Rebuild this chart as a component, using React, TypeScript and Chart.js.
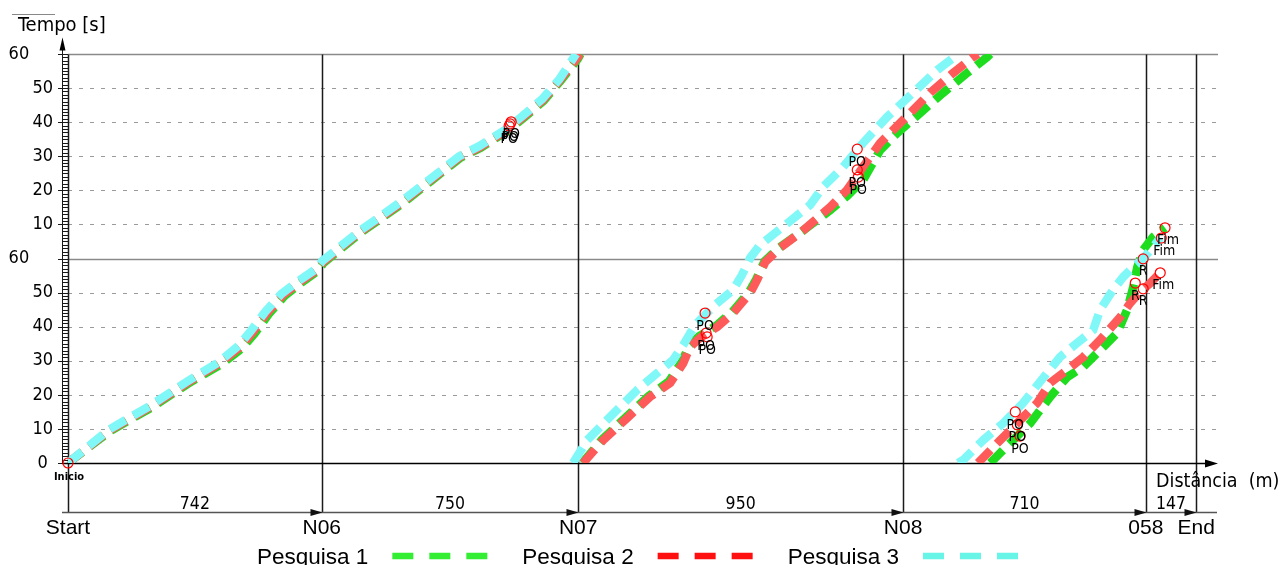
import React, { useEffect, useRef } from 'react';
import { Chart, registerables } from 'chart.js';

Chart.register(...registerables);

// ---- Data ----
const stationNames = ['Start', 'N06', 'N07', 'N08', '058', 'End'];
const stationDist = [0, 742, 1492, 2442, 3152, 3299];
const segmentLengths = [742, 750, 950, 710, 147];
const timeMax = 120; // two stacked 60 s bands
const timeStep = 10;

const seriesNames = ['Pesquisa 1', 'Pesquisa 2', 'Pesquisa 3'];

// Pesquisa 1 (green)
const p1Dist = [0, 125, 243, 351, 448, 508, 546, 587, 633, 682, 731, 748, 856, 973, 1062, 1148, 1207, 1286, 1333, 1391, 1441, 1491, 1499,
  1499,
  1504, 1562, 1632, 1699, 1757, 1796, 1816, 1846, 1896, 1943, 1992, 2013, 2037, 2080, 2139, 2229, 2278, 2325, 2375, 2425, 2492, 2559, 2629, 2688, 2697,
  2697,
  2697, 2755, 2814, 2872, 2922, 2969, 3027, 3068, 3097, 3115, 3127, 3144, 3173, 3208];
const p1Time = [0, 9.5, 16.2, 23.3, 29.0, 33.6, 38.0, 43.7, 49.0, 52.9, 56.4, 58.8, 67.6, 75.8, 82.8, 89.6, 92.5, 97.5, 101.3, 106.3, 112.2, 118.6, 120,
  null,
  0, 6.9, 13.5, 19.7, 23.9, 29.8, 34.5, 37.2, 40.3, 44.4, 50.2, 54.0, 59.2, 63.2, 67.4, 74.2, 78.3, 83.0, 91.8, 96.8, 102.7, 108.6, 114.4, 119.1, 120,
  null,
  0, 5.9, 11.7, 19.4, 25.2, 28.2, 34.0, 38.1, 44.9, 51.6, 57.5, 62.5, 66.3, 69.0];

// Pesquisa 2 (red)
const p2Dist = [0, 123, 240, 348, 444, 503, 541, 582, 629, 678, 728, 746, 854, 971, 1060, 1146, 1205, 1284, 1331, 1389, 1439, 1489, 1497,
  1497,
  1506, 1565, 1635, 1702, 1761, 1799, 1819, 1848, 1898, 1945, 1995, 2015, 2039, 2082, 2141, 2229, 2278, 2325, 2375, 2442, 2521, 2588, 2647, 2661,
  2661,
  2661, 2726, 2776, 2834, 2872, 2922, 2969, 3018, 3077, 3106, 3135, 3165, 3194];
const p2Time = [0, 9.7, 16.4, 23.5, 29.3, 34.0, 38.4, 44.0, 49.3, 53.1, 56.6, 59.0, 67.8, 76.0, 83.0, 89.8, 92.7, 97.7, 101.5, 106.5, 112.4, 118.8, 120,
  null,
  0, 6.7, 13.2, 19.4, 23.5, 29.3, 34.0, 36.7, 39.9, 44.0, 49.9, 53.7, 59.0, 63.1, 67.5, 75.1, 80.1, 86.9, 93.9, 100.6, 108.6, 114.4, 119.1, 120,
  null,
  0, 6.7, 11.7, 17.6, 23.5, 27.3, 31.1, 36.1, 42.8, 46.9, 50.2, 52.8, 55.8];

// Pesquisa 3 (cyan)
const p3Dist = [0, 120, 237, 345, 441, 499, 536, 577, 624, 674, 725, 744, 852, 969, 1058, 1144, 1203, 1282, 1329, 1387, 1437, 1486,
  1486,
  1477, 1518, 1576, 1664, 1723, 1769, 1799, 1834, 1892, 1945, 1971, 1995, 2024, 2097, 2170, 2208, 2267, 2325, 2395, 2471, 2542, 2600, 2603,
  2603,
  2603, 2618, 2676, 2735, 2793, 2863, 2901, 2951, 2998, 3018, 3056, 3086, 3115, 3144, 3165, 3194];
const p3Time = [0, 9.8, 16.6, 23.7, 29.6, 34.4, 38.9, 44.4, 49.6, 53.4, 56.9, 59.3, 68.0, 76.3, 83.2, 90.0, 93.0, 98.0, 101.8, 106.8, 112.6, 120,
  null,
  0, 6.7, 12.6, 21.4, 26.4, 30.2, 34.6, 40.5, 46.4, 50.8, 55.2, 60.2, 64.0, 69.8, 75.7, 81.0, 86.9, 93.9, 101.5, 108.6, 115.3, 119.7, 120,
  null,
  0, 0.9, 6.7, 11.7, 17.6, 26.4, 31.1, 35.2, 39.0, 44.9, 50.8, 54.6, 57.5, 59.9, 62.5, 66.0];

// Event markers
const markDist = [0, 1290, 1293, 1296, 1863, 1866, 1869, 2308, 2308, 2311, 2770, 2776, 2784, 3121, 3144, 3144, 3197, 3208, 3194];
const markTime = [0, 98.9, 99.5, 100.1, 44.0, 38.1, 37.0, 92.1, 86.0, 83.9, 15.0, 11.2, 7.9, 52.8, 59.9, 51.1, 66.0, 69.0, 55.8];
const markLabel = ['Inicio', 'PO', 'PO', 'PO', 'PO', 'PO', 'PO', 'PO', 'PO', 'PO', 'PO', 'PO', 'PO', 'R', 'R', 'R', 'Fim', 'Fim', 'Fim'];

// ---- Styles ----
const lineColors = ['#1edc1e', '#ff5a5a', '#80f8f8'];
const legendColors = ['#33ee33', '#ff1010', '#66f5e6'];
const condFont = '"DejaVu Sans Condensed", "DejaVu Sans", sans-serif';
const arialFont = '"Liberation Sans", Arial, sans-serif';

const toPoints = (d: number[], t: (number | null)[]) => d.map((v, i) => ({ x: v, y: t[i] }));

const decorPlugin = {
  id: 'decor',
  beforeDatasetsDraw(chart: any) {
    const { ctx, chartArea: a, scales } = chart;
    const xs = scales.x;
    const ys = scales.y;
    const yBase = Math.round(ys.getPixelForValue(0)) + 0.5;
    const yTop = Math.round(ys.getPixelForValue(timeMax)) + 0.5;
    const distLineY = yBase + 49;
    const rulerX = a.left - 6;
    ctx.save();
    // horizontal grid lines at y ticks
    ys.ticks.forEach((t: any) => {
      const v = t.value;
      if (v === 0) return;
      const py = Math.round(ys.getPixelForValue(v)) + 0.5;
      ctx.beginPath();
      if (v % 60 === 0) {
        ctx.setLineDash([]);
        ctx.strokeStyle = '#8a8a8a';
        ctx.lineWidth = 1.5;
      } else {
        ctx.setLineDash([4, 7]);
        ctx.strokeStyle = '#9a9a9a';
        ctx.lineWidth = 1;
      }
      ctx.moveTo(a.left, py);
      ctx.lineTo(a.right + 1, py);
      ctx.stroke();
    });
    ctx.setLineDash([]);
    // station verticals
    stationDist.forEach((d) => {
      const px = Math.round(xs.getPixelForValue(d)) + 0.5;
      ctx.beginPath();
      ctx.strokeStyle = '#1a1a1a';
      ctx.lineWidth = 1.5;
      ctx.moveTo(px, yTop);
      ctx.lineTo(px, distLineY);
      ctx.stroke();
    });
    // ruler on time axis
    ctx.strokeStyle = '#1a1a1a';
    ctx.lineWidth = 1;
    ctx.beginPath();
    ctx.moveTo(rulerX + 0.5, yBase);
    ctx.lineTo(rulerX + 0.5, yTop - 12);
    ctx.stroke();
    for (let s = 0; s <= timeMax; s++) {
      const py = Math.round(ys.getPixelForValue(s)) + 0.5;
      ctx.beginPath();
      ctx.moveTo(s % timeStep === 0 ? a.left - 10 : rulerX, py);
      ctx.lineTo(a.left, py);
      ctx.stroke();
    }
    // arrow up
    ctx.fillStyle = '#000';
    ctx.beginPath();
    ctx.moveTo(rulerX + 0.5, yTop - 17);
    ctx.lineTo(rulerX - 2.5, yTop - 4);
    ctx.lineTo(rulerX + 3.5, yTop - 4);
    ctx.closePath();
    ctx.fill();
    // zero time axis (distance axis) with arrow
    ctx.strokeStyle = '#000';
    ctx.lineWidth = 1.5;
    ctx.beginPath();
    ctx.moveTo(rulerX, yBase);
    ctx.lineTo(a.right - 4, yBase);
    ctx.stroke();
    ctx.beginPath();
    ctx.moveTo(a.right + 1, yBase);
    ctx.lineTo(a.right - 12, yBase - 4);
    ctx.lineTo(a.right - 12, yBase + 4);
    ctx.closePath();
    ctx.fill();
    // distance segments line
    ctx.strokeStyle = '#555';
    ctx.beginPath();
    ctx.moveTo(rulerX, distLineY);
    ctx.lineTo(a.right, distLineY);
    ctx.stroke();
    ctx.fillStyle = '#111';
    stationDist.forEach((d, i) => {
      if (i === 0) return;
      const px = Math.round(xs.getPixelForValue(d)) + 0.5;
      ctx.beginPath();
      ctx.moveTo(px, distLineY);
      ctx.lineTo(px - 12, distLineY - 3.5);
      ctx.lineTo(px - 12, distLineY + 3.5);
      ctx.closePath();
      ctx.fill();
    });
    // segment lengths
    ctx.fillStyle = '#000';
    ctx.font = `17.5px ${condFont}`;
    ctx.textAlign = 'center';
    ctx.textBaseline = 'alphabetic';
    segmentLengths.forEach((len, i) => {
      const mid = (xs.getPixelForValue(stationDist[i]) + xs.getPixelForValue(stationDist[i + 1])) / 2;
      ctx.fillText(String(len), mid, distLineY - 4);
    });
    // axis titles
    ctx.font = `19.5px ${condFont}`;
    ctx.textAlign = 'left';
    ctx.fillText('Distância  (m)', a.right - 61, yBase + 23);
    ctx.font = `20px ${condFont}`;
    ctx.fillText('Tempo [s]', 18, 31);
    ctx.strokeStyle = '#888';
    ctx.lineWidth = 1;
    ctx.beginPath();
    ctx.moveTo(12, 14.5);
    ctx.lineTo(55, 14.5);
    ctx.stroke();
    ctx.restore();
  },
  afterDatasetsDraw(chart: any) {
    const { ctx } = chart;
    const meta = chart.getDatasetMeta(3);
    ctx.save();
    ctx.fillStyle = '#000';
    ctx.textAlign = 'center';
    ctx.textBaseline = 'middle';
    meta.data.forEach((pt: any, i: number) => {
      const lbl = markLabel[i];
      if (lbl === 'Inicio') {
        ctx.font = `bold 11px ${condFont}`;
        ctx.fillText(lbl, pt.x + 1, pt.y + 14);
      } else {
        ctx.font = `14px ${condFont}`;
        ctx.fillText(lbl, pt.x + (lbl === 'Fim' ? 3 : 0), pt.y + 13);
      }
    });
    ctx.restore();
  },
  afterDraw(chart: any) {
    const { ctx } = chart;
    ctx.save();
    ctx.font = `22.5px ${arialFont}`;
    ctx.textAlign = 'left';
    ctx.textBaseline = 'alphabetic';
    let x = 257;
    const y = 564;
    seriesNames.forEach((name, i) => {
      ctx.fillStyle = '#000';
      ctx.fillText(name, x, y);
      x += ctx.measureText(name).width + 24;
      ctx.strokeStyle = legendColors[i];
      ctx.lineWidth = 6.5;
      ctx.setLineDash([21, 16]);
      ctx.beginPath();
      ctx.moveTo(x, 556);
      ctx.lineTo(x + 95, 556);
      ctx.stroke();
      ctx.setLineDash([]);
      x += 95 + 35;
    });
    ctx.restore();
  },
};

const lineDataset = (label: string, d: number[], t: (number | null)[], color: string, order: number) => ({
  type: 'line' as const,
  label,
  data: toPoints(d, t),
  borderColor: color,
  backgroundColor: color,
  borderWidth: 8.5,
  borderDash: [18, 9],
  borderCapStyle: 'butt' as const,
  pointRadius: 0,
  tension: 0,
  spanGaps: false,
  fill: false,
  order,
});

export default function App() {
  const ref = useRef<HTMLCanvasElement>(null);
  useEffect(() => {
    document.body.style.margin = '0';
    const canvas = ref.current;
    if (!canvas) return;
    const chart = new Chart(canvas, {
      type: 'line',
      data: {
        datasets: [
          lineDataset(seriesNames[0], p1Dist, p1Time, lineColors[0], 3),
          lineDataset(seriesNames[1], p2Dist, p2Time, lineColors[1], 2),
          lineDataset(seriesNames[2], p3Dist, p3Time, lineColors[2], 1),
          {
            type: 'scatter' as const,
            label: 'marks',
            data: toPoints(markDist, markTime),
            pointRadius: 5,
            pointBorderWidth: 1.2,
            borderColor: '#ff0000',
            backgroundColor: 'rgba(255,255,255,0)',
            showLine: false,
            clip: false as any,
            order: 0,
          } as any,
        ],
      },
      options: {
        responsive: false,
        animation: false,
        events: [],
        layout: { padding: { top: 54, right: 63, left: 0, bottom: 0 } },
        plugins: { legend: { display: false }, tooltip: { enabled: false } },
        scales: {
          x: {
            type: 'linear',
            position: 'bottom',
            min: 0,
            max: 3360,
            grid: { display: false, drawTicks: true, tickLength: 50 },
            border: { display: false },
            afterBuildTicks: (s: any) => {
              s.ticks = stationDist.map((v) => ({ value: v }));
            },
            afterFit: (s: any) => {
              s.height = 102;
            },
            ticks: {
              autoSkip: false,
              maxRotation: 0,
              minRotation: 0,
              padding: 3,
              color: '#000',
              font: { family: arialFont, size: 21 },
              callback: (_v: any, i: number) => stationNames[i],
            },
          },
          y: {
            type: 'linear',
            min: 0,
            max: timeMax,
            grid: { display: false, drawTicks: false },
            border: { display: false },
            afterFit: (s: any) => {
              s.width = 68;
            },
            ticks: {
              stepSize: timeStep,
              padding: 15,
              color: '#000',
              font: { family: condFont, size: 18 },
              callback: (v: any) => {
                const n = Number(v);
                if (n === 0) return '0 ';
                if (n % 60 === 0) return '60    \u2009';
                return String(n % 60);
              },
            },
          },
        },
      } as any,
      plugins: [decorPlugin],
    });
    return () => chart.destroy();
  }, []);
  return <canvas ref={ref} width={1280} height={565} style={{ display: 'block', width: 1280, height: 565 }} />;
}
